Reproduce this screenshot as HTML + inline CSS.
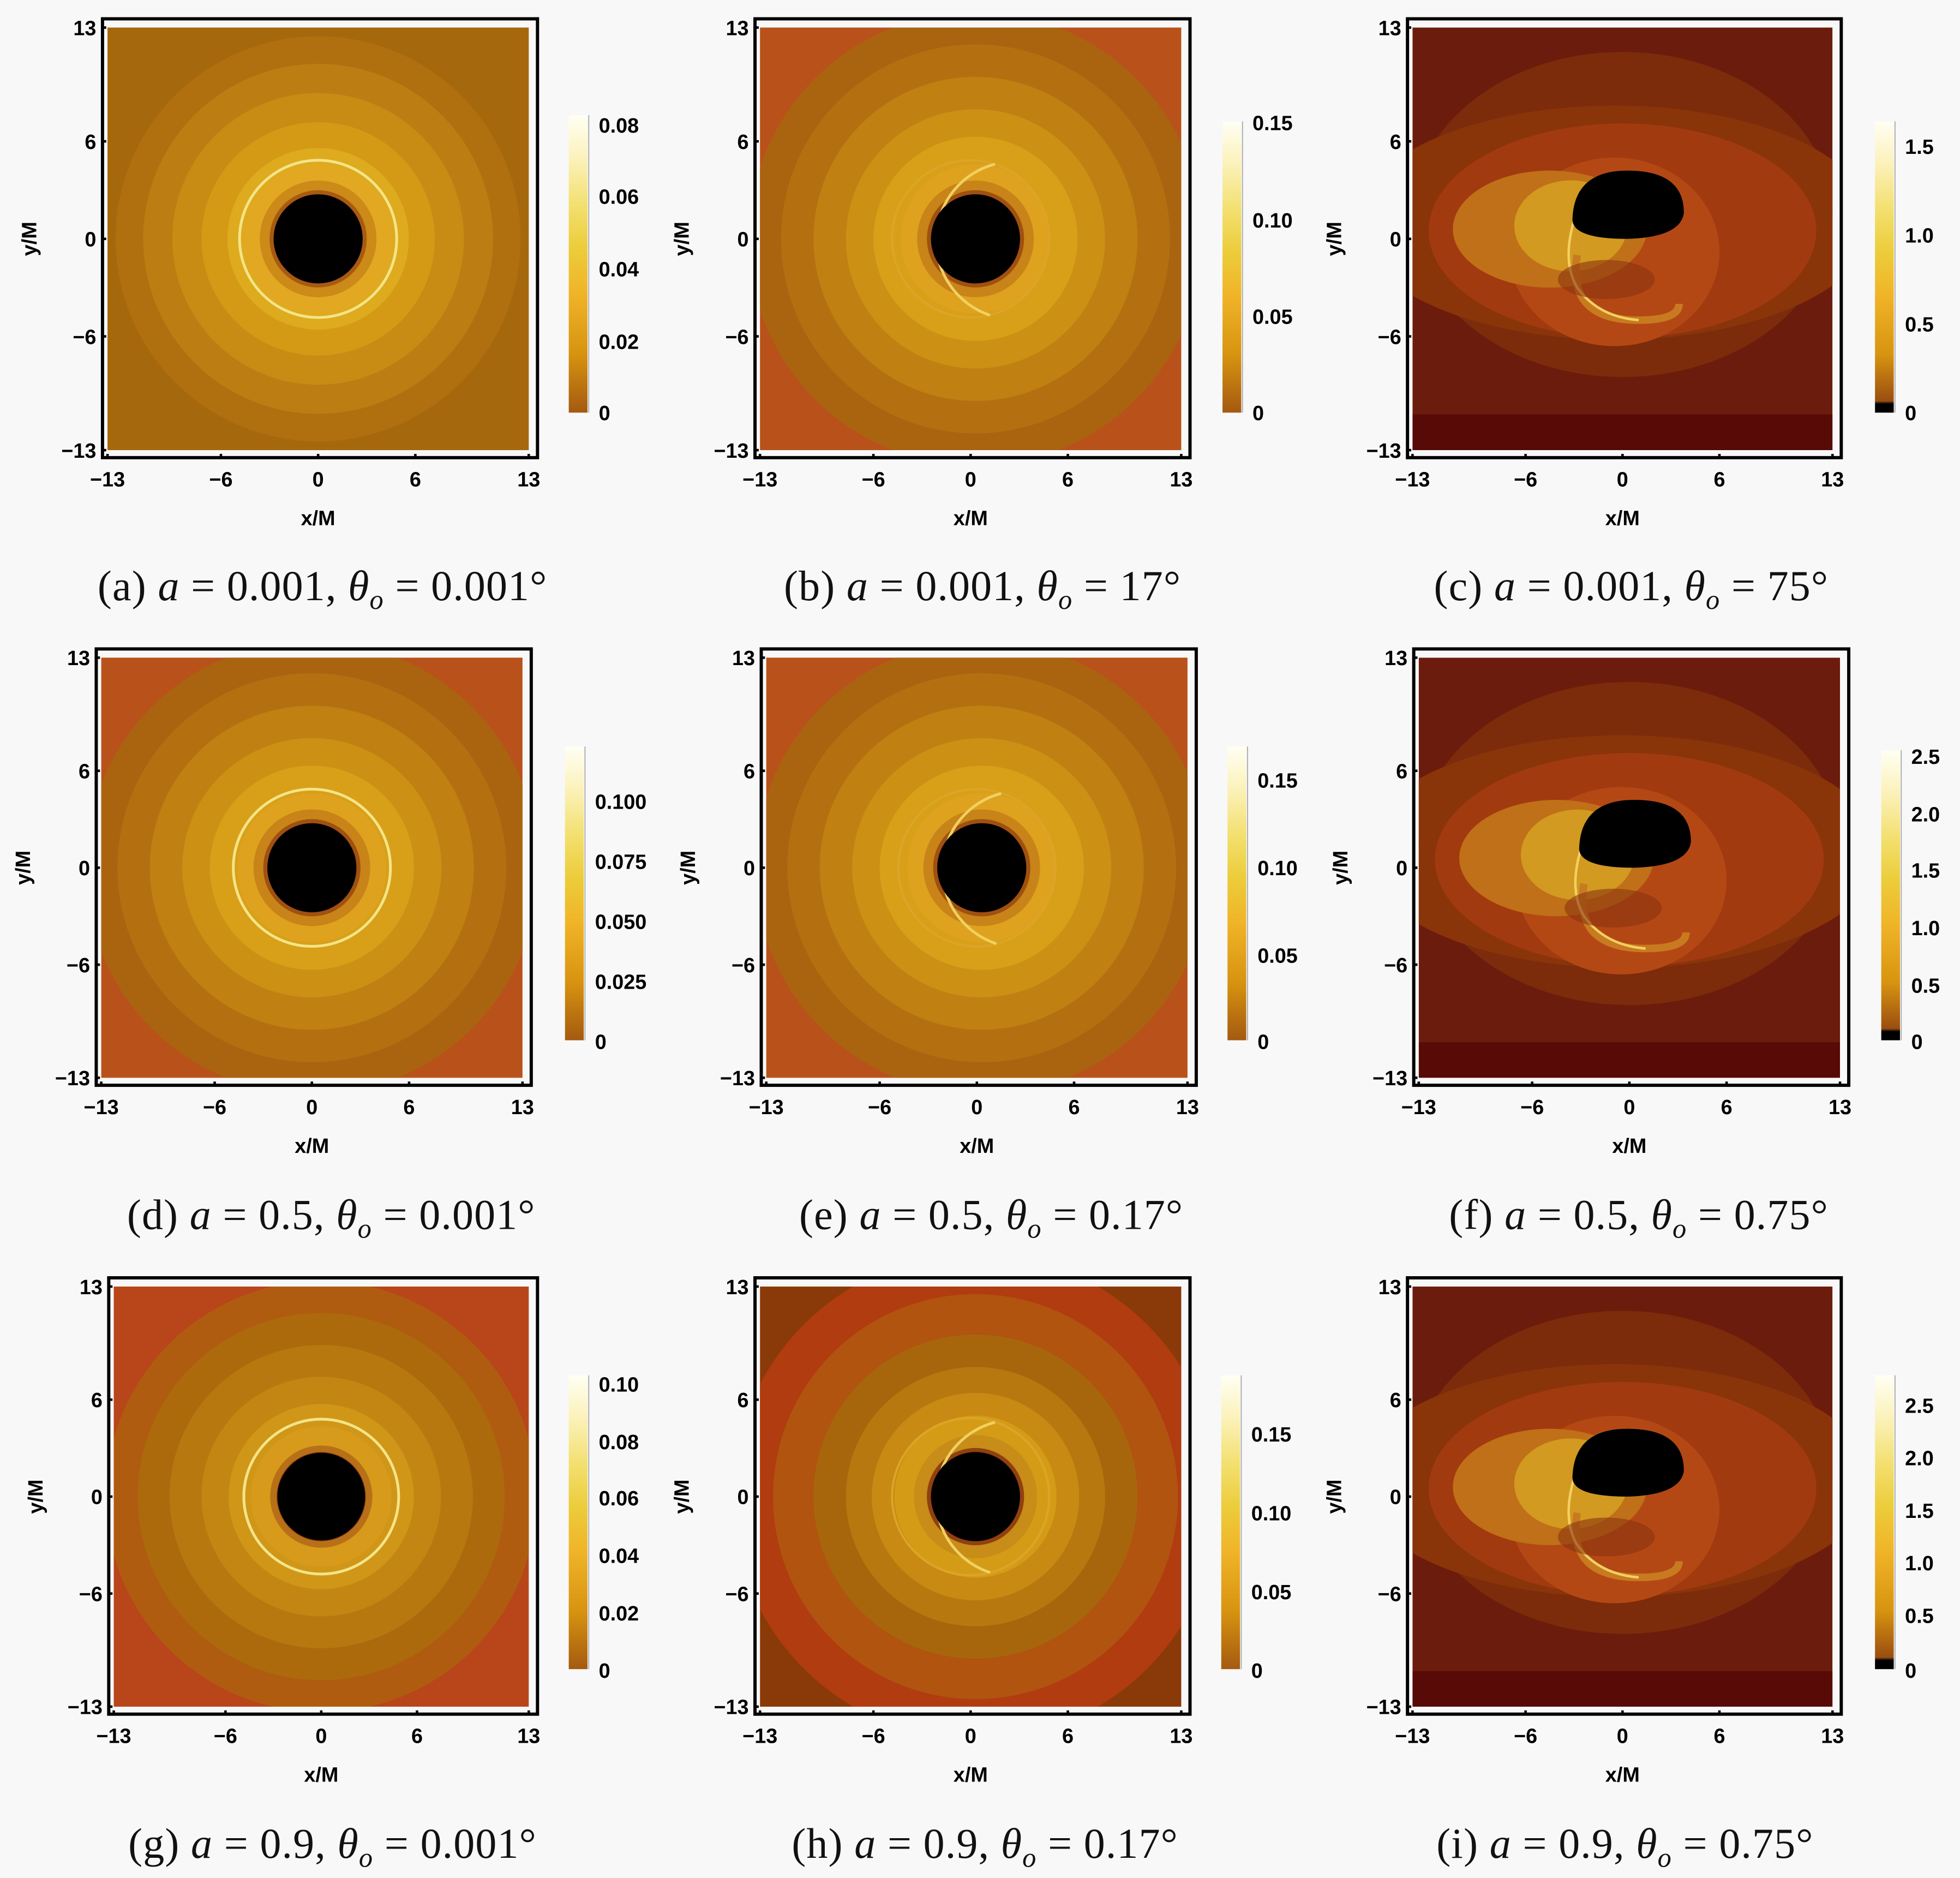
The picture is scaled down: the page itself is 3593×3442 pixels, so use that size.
<!DOCTYPE html>
<html><head><meta charset="utf-8"><style>
html,body{margin:0;padding:0;background:#f8f8f8}
svg{display:block}
.t{font-family:"Liberation Sans",sans-serif;font-weight:bold;font-size:16.5px;fill:#000}
.c{font-family:"Liberation Serif",serif;font-size:34px;fill:#111;letter-spacing:0.5px}
</style></head><body>
<svg id="s" xmlns="http://www.w3.org/2000/svg" width="3593" height="3442" viewBox="0 0 1568 1502">
<rect width="1568" height="1502" fill="#f8f8f8"/>
<defs>
<linearGradient id="cbA" x1="0" y1="0" x2="0" y2="1">
<stop offset="0" stop-color="#fffff4"/><stop offset="0.15" stop-color="#fbf1b8"/><stop offset="0.3" stop-color="#f3e070"/><stop offset="0.45" stop-color="#eccc3a"/><stop offset="0.6" stop-color="#f0b428"/><stop offset="0.8" stop-color="#d89410"/><stop offset="1" stop-color="#a45a10"/></linearGradient>
<linearGradient id="cbB" x1="0" y1="0" x2="0" y2="1">
<stop offset="0" stop-color="#fffff4"/><stop offset="0.15" stop-color="#fbf1b8"/><stop offset="0.3" stop-color="#f3e070"/><stop offset="0.45" stop-color="#eccc3a"/><stop offset="0.6" stop-color="#f0b428"/><stop offset="0.8" stop-color="#d89410"/><stop offset="0.96" stop-color="#9a4e10"/><stop offset="0.97" stop-color="#000"/><stop offset="1" stop-color="#000"/></linearGradient>
</defs>
<g id="g"></g>
</svg>
<script>
var g=document.getElementById('g');var h='';
var panels=[
{L:86,R:423,T:22,B:360,type:0,pal:0,cb:[455,92,330],lab:[['0.08',100],['0.06',157],['0.04',215],['0.02',273],['0',330]],cap:'(a)',a:'0.001',th:'0.001°',cx:258},
{L:608,R:945,T:22,B:360,type:1,pal:1,cb:[978,97,330],lab:[['0.15',98],['0.10',176],['0.05',253],['0',330]],cap:'(b)',a:'0.001',th:'17°',cx:786},
{L:1130,R:1466,T:22,B:360,type:2,cb:[1500,97,330],lab:[['1.5',117],['1.0',188],['0.5',259],['0',330]],cap:'(c)',a:'0.001',th:'75°',cx:1305},
{L:81,R:418,T:526,B:862,type:0,pal:1,cb:[452,597,832],lab:[['0.100',641],['0.075',689],['0.050',737],['0.025',785],['0',833]],cap:'(d)',a:'0.5',th:'0.001°',cx:265},
{L:613,R:950,T:526,B:862,type:1,pal:1,cb:[982,597,832],lab:[['0.15',624],['0.10',694],['0.05',764],['0',833]],cap:'(e)',a:'0.5',th:'0.17°',cx:793},
{L:1135,R:1472,T:526,B:862,type:2,cb:[1505,600,832],lab:[['2.5',605],['2.0',651],['1.5',696],['1.0',742],['0.5',788],['0',833]],cap:'(f)',a:'0.5',th:'0.75°',cx:1311},
{L:91,R:423,T:1029,B:1365,type:0,pal:2,cb:[455,1100,1335],lab:[['0.10',1107],['0.08',1153],['0.06',1198],['0.04',1244],['0.02',1290],['0',1336]],cap:'(g)',a:'0.9',th:'0.001°',cx:266},
{L:608,R:945,T:1029,B:1365,type:1,pal:3,cb:[977,1100,1335],lab:[['0.15',1147],['0.10',1210],['0.05',1273],['0',1336]],cap:'(h)',a:'0.9',th:'0.17°',cx:788},
{L:1130,R:1466,T:1029,B:1365,type:2,cb:[1500,1100,1335],lab:[['2.5',1124],['2.0',1166],['1.5',1208],['1.0',1250],['0.5',1292],['0',1336]],cap:'(i)',a:'0.9',th:'0.75°',cx:1300}
];
var pals=[
[[20,'#a6680c'],[12.5,'#b07010'],[10.8,'#bc7e12'],[9,'#c88c14'],[7.2,'#d49a16'],[5.6,'#deaa1e'],[4.6,'#e2a822'],[3.6,'#cc8a18'],[3.0,'#a85a12']],
[[20,'#b8521a'],[14,'#aa6410'],[12,'#b47010'],[10,'#c08012'],[8,'#cc9014'],[6.3,'#d8a018'],[4.6,'#dea21e'],[3.6,'#c88418'],[3.0,'#a05010']],
[[20,'#b8461a'],[13.5,'#b05c10'],[11.5,'#ac6a0c'],[9.5,'#b87810'],[7.5,'#c48612'],[5.8,'#d09618'],[4.4,'#d89a1a'],[3.2,'#b87018'],[2.8,'#904010']],
[[20,'#8a3a08'],[15,'#b03c10'],[12.5,'#b05410'],[10,'#a8660c'],[8,'#b87810'],[6.4,'#c88a12'],[5,'#d49c16'],[3.8,'#c88c18'],[3.0,'#904010']]
];
function E(s){h+=s;}
panels.forEach(function(p,i){
 var W=p.R-p.L,H=p.B-p.T,sx=W/26,sy=H/26,ox=(p.L+p.R)/2,oy=(p.T+p.B)/2;
 function X(u){return ox+u*sx}function Y(v){return oy-v*sy}
 E('<clipPath id="cp'+i+'"><rect x="'+p.L+'" y="'+p.T+'" width="'+W+'" height="'+H+'"/></clipPath>');
 E('<g clip-path="url(#cp'+i+')">');
 if(p.type<2){
  var pal=pals[p.pal],dx=p.type==1?0.3:0;
  pal.forEach(function(b){E('<circle cx="'+X(dx)+'" cy="'+Y(0)+'" r="'+b[0]*sx+'" fill="'+b[1]+'"/>');});
  if(p.type==0){E('<circle cx="'+X(0)+'" cy="'+Y(0)+'" r="'+4.85*sx+'" fill="none" stroke="#f4e488" stroke-width="2.2"/>');}
  else{E('<circle cx="'+X(0)+'" cy="'+Y(0)+'" r="'+4.85*sx+'" fill="none" stroke="#dca428" stroke-width="1.8"/>');
   E('<path d="M'+X(1.5)+' '+Y(4.6)+' A'+4.85*sx+' '+4.85*sy+' 0 0 0 '+X(1.2)+' '+Y(-4.7)+'" fill="none" stroke="#f0d060" stroke-width="2.2"/>');}
  E('<circle cx="'+X(dx)+'" cy="'+Y(0)+'" r="'+2.75*sx+'" fill="#000"/>');
 } else {
  E('<rect x="'+p.L+'" y="'+p.T+'" width="'+W+'" height="'+H+'" fill="#6c1c0c"/>');
  E('<rect x="'+p.L+'" y="'+Y(-10.8)+'" width="'+W+'" height="'+(p.B-Y(-10.8))+'" fill="#580a06"/>');
  E('<ellipse cx="'+X(0)+'" cy="'+Y(1.5)+'" rx="'+13*sx+'" ry="'+10*sy+'" fill="#7c2c0a"/>');
  E('<ellipse cx="'+X(-0.5)+'" cy="'+Y(1)+'" rx="'+16*sx+'" ry="'+7.2*sy+'" fill="#8a340a"/>');
  E('<ellipse cx="'+X(0)+'" cy="'+Y(0.5)+'" rx="'+12*sx+'" ry="'+6.6*sy+'" fill="#a23a10"/>');
  E('<ellipse cx="'+X(-0.5)+'" cy="'+Y(-0.8)+'" rx="'+6.5*sx+'" ry="'+5.8*sy+'" fill="#b44814"/>');
  E('<ellipse cx="'+X(-4.5)+'" cy="'+Y(0.6)+'" rx="'+6*sx+'" ry="'+3.6*sy+'" fill="#c07018"/>');
  E('<ellipse cx="'+X(-3.2)+'" cy="'+Y(0.8)+'" rx="'+3.5*sx+'" ry="'+2.8*sy+'" fill="#d29a20"/>');
  E('<path d="M'+X(-2.8)+' '+Y(-1)+' Q'+X(-3.5)+' '+Y(-5)+' '+X(1)+' '+Y(-5)+' Q'+X(3.5)+' '+Y(-5)+' '+X(3.5)+' '+Y(-4)+'" fill="none" stroke="#c87a20" stroke-width="6"/>');
  E('<path d="M'+X(-2.5)+' '+Y(2.5)+' Q'+X(-4)+' '+Y(-1)+' '+X(-2.8)+' '+Y(-3)+' Q'+X(-1.5)+' '+Y(-4.8)+' '+X(1)+' '+Y(-5)+'" fill="none" stroke="#f2d060" stroke-width="2"/>');
  E('<ellipse cx="'+X(-1)+'" cy="'+Y(-2.5)+'" rx="'+3*sx+'" ry="'+1.2*sy+'" fill="#8a3410" opacity="0.6"/>');
  E('<path d="M'+X(-3.1)+' '+Y(1.2)+' Q'+X(-3)+' '+Y(4.2)+' '+X(0.3)+' '+Y(4.2)+' Q'+X(3.8)+' '+Y(4.2)+' '+X(3.8)+' '+Y(1.6)+' Q'+X(3.6)+' '+Y(0.1)+' '+X(0.3)+' '+Y(0)+' Q'+X(-3.1)+' '+Y(0)+' '+X(-3.1)+' '+Y(1.2)+'Z" fill="#000"/>');
 }
 E('</g>');
 E('<rect x="'+(p.L-4)+'" y="'+(p.T-7)+'" width="'+(W+11)+'" height="'+(H+13)+'" fill="none" stroke="#000" stroke-width="2.6"/>');
 var tv=[-13,-6,0,6,13];
 tv.forEach(function(v){var lab=v<0?'\u2212'+(-v):''+v;
  E('<line x1="'+X(v)+'" y1="'+(p.B+6)+'" x2="'+X(v)+'" y2="'+(p.B+3)+'" stroke="#000" stroke-width="2"/>');
  E('<text class="t" x="'+X(v)+'" y="'+(p.B+29)+'" text-anchor="middle">'+lab+'</text>');
  E('<line x1="'+(p.L-4)+'" y1="'+Y(v)+'" x2="'+(p.L-1)+'" y2="'+Y(v)+'" stroke="#000" stroke-width="2"/>');
  E('<text class="t" x="'+(p.L-9)+'" y="'+(Y(v)+6)+'" text-anchor="end">'+lab+'</text>');});
 E('<text class="t" x="'+ox+'" y="'+(p.B+60)+'" text-anchor="middle">x/M</text>');
 E('<text class="t" transform="translate('+(p.L-57)+','+oy+') rotate(-90)" text-anchor="middle">y/M</text>');
 var c=p.cb;
 E('<rect x="'+c[0]+'" y="'+c[1]+'" width="15" height="'+(c[2]-c[1])+'" fill="url(#'+(p.type==2?'cbB':'cbA')+')"/>');
 E('<line x1="'+(c[0]+16)+'" y1="'+c[1]+'" x2="'+(c[0]+16)+'" y2="'+c[2]+'" stroke="#aaa" stroke-width="0.8"/>');
 p.lab.forEach(function(l){E('<text class="t" x="'+(c[0]+24)+'" y="'+(l[1]+6)+'">'+l[0]+'</text>');});
 var cy=[480,983,1486][Math.floor(i/3)];
 E('<text class="c" x="'+p.cx+'" y="'+cy+'" text-anchor="middle">'+p.cap+'  <tspan font-style="italic">a</tspan> = '+p.a+', <tspan font-style="italic">θ</tspan><tspan font-style="italic" font-size="22" dy="7">o</tspan><tspan dy="-7"> = '+p.th+'</tspan></text>');
});
g.innerHTML=h;
</script>
</body></html>
